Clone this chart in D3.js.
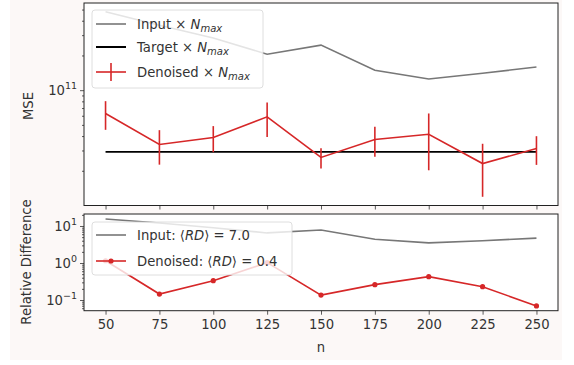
<!DOCTYPE html>
<html lang="en">
<head>
<meta charset="utf-8">
<title>MSE vs n</title>
<script src="https://cdnjs.cloudflare.com/ajax/libs/d3/7.8.5/d3.min.js"></script>
<style>
  body { margin: 0; background: #fff; }
  svg text { font-family: "DejaVu Sans", sans-serif; fill: #333; }
</style>
</head>
<body>
<script>
// data
var nValues = [50, 75, 100, 125, 150, 175, 200, 225, 250];
var inputMse = [4.78e11, 3.66e11, 2.83e11, 2.05e11, 2.46e11, 1.49e11, 1.25e11, 1.40e11, 1.59e11];
var targetMse = [2.92e10, 2.92e10, 2.92e10, 2.92e10, 2.92e10, 2.92e10, 2.92e10, 2.92e10, 2.92e10];
var denoisedMse = [6.28e10, 3.38e10, 3.89e10, 5.87e10, 2.61e10, 3.73e10, 4.15e10, 2.31e10, 3.12e10];
var denoisedErr = [1.75e10, 1.12e10, 0.99e10, 1.95e10, 0.52e10, 1.08e10, 2.13e10, 1.12e10, 0.87e10];
var inputRD = [15.5, 12.0, 9.0, 6.5, 7.8, 4.4, 3.5, 4.0, 4.7];
var denoisedRD = [1.15, 0.145, 0.333, 1.02, 0.136, 0.26, 0.427, 0.229, 0.069];
var xTicks = [50, 75, 100, 125, 150, 175, 200, 225, 250];
var inputMeanRD = "7.0";
var denoisedMeanRD = "0.4";

var W = 574, H = 365;
var grey = "#777", red = "#d62728";
var fs = "13.2px";

var svg = d3.select("body").append("svg")
  .attr("width", W).attr("height", H);

// figure background
svg.append("rect").attr("x", 10).attr("y", 0).attr("width", 552).attr("height", 360)
  .attr("fill", "#fcf8f7");

var left = 84, right = 558;
var top1 = 3, bot1 = 205.5, top2 = 214, bot2 = 310.7;

var x = d3.scaleLinear().domain([40, 260]).range([left, right]);
var y1 = d3.scaleLog().domain([1.0e10, 5.7e11]).range([bot1, top1]);
var y2 = d3.scaleLog().domain([0.0514, 21.1]).range([bot2, top2]);

function panel(t, b) {
  svg.append("rect").attr("x", left).attr("y", t).attr("width", right - left).attr("height", b - t)
    .attr("fill", "#fff");
}
panel(top1, bot1);
panel(top2, bot2);

function minorTicks(scale) {
  var d = scale.domain(), out = [];
  for (var e = Math.floor(Math.log10(d[0])); e <= Math.ceil(Math.log10(d[1])); e++) {
    for (var k = 2; k <= 9; k++) {
      var v = k * Math.pow(10, e);
      if (v >= d[0] && v <= d[1]) out.push(v);
    }
  }
  return out;
}

function styleAxis(g) {
  g.select(".domain").remove();
  g.selectAll("line").attr("stroke", "#333").attr("stroke-width", 0.8);
}

// x axes
svg.append("g").attr("transform", "translate(0," + bot1 + ")")
  .call(d3.axisBottom(x).tickValues(xTicks).tickSize(4).tickFormat(""))
  .call(styleAxis);
var xa = svg.append("g").attr("transform", "translate(0," + bot2 + ")")
  .call(d3.axisBottom(x).tickValues(xTicks).tickSize(4).tickPadding(5))
  .call(styleAxis);
xa.selectAll("text").attr("font-size", fs).attr("fill", "#333")
  .attr("font-family", "DejaVu Sans, sans-serif");

// y axes: major + minor
function yAxis(scale, majors) {
  svg.append("g").attr("transform", "translate(" + left + ",0)")
    .call(d3.axisLeft(scale).tickValues(majors).tickSize(4).tickFormat(""))
    .call(styleAxis);
  svg.append("g").attr("transform", "translate(" + left + ",0)")
    .call(d3.axisLeft(scale).tickValues(minorTicks(scale)).tickSize(2).tickFormat(""))
    .call(styleAxis);
  majors.forEach(function (v) {
    var e = Math.round(Math.log10(v));
    var t = svg.append("text").attr("x", left - 7).attr("y", scale(v) + 5)
      .attr("text-anchor", "end").attr("font-size", fs);
    t.append("tspan").text("10");
    t.append("tspan").attr("dy", -6).attr("font-size", "9.5px")
      .text(e < 0 ? "\u2212" + String(-e) : String(e));
  });
}
yAxis(y1, [1e11]);
yAxis(y2, [0.1, 1, 10]);

// spines
[[top1, bot1], [top2, bot2]].forEach(function (p) {
  svg.append("rect").attr("x", left).attr("y", p[0]).attr("width", right - left).attr("height", p[1] - p[0])
    .attr("fill", "none").attr("stroke", "#222").attr("stroke-width", 1);
});

// top panel lines
var line1 = d3.line().x(function (d) { return x(d[0]); }).y(function (d) { return y1(d[1]); });
svg.append("path").datum(d3.zip(nValues, inputMse)).attr("d", line1)
  .attr("fill", "none").attr("stroke", grey).attr("stroke-width", 1.6);
svg.append("path").datum(d3.zip(nValues, targetMse)).attr("d", line1)
  .attr("fill", "none").attr("stroke", "#000").attr("stroke-width", 1.6);
svg.append("path").datum(d3.zip(nValues, denoisedMse)).attr("d", line1)
  .attr("fill", "none").attr("stroke", red).attr("stroke-width", 1.6);
svg.selectAll(".err").data(nValues).enter().append("line")
  .attr("x1", function (d) { return x(d); }).attr("x2", function (d) { return x(d); })
  .attr("y1", function (d, i) { return y1(denoisedMse[i] + denoisedErr[i]); })
  .attr("y2", function (d, i) { return y1(denoisedMse[i] - denoisedErr[i]); })
  .attr("stroke", red).attr("stroke-width", 1.6);

// bottom panel lines
var line2 = d3.line().x(function (d) { return x(d[0]); }).y(function (d) { return y2(d[1]); });
svg.append("path").datum(d3.zip(nValues, inputRD)).attr("d", line2)
  .attr("fill", "none").attr("stroke", grey).attr("stroke-width", 1.6);
svg.append("path").datum(d3.zip(nValues, denoisedRD)).attr("d", line2)
  .attr("fill", "none").attr("stroke", red).attr("stroke-width", 1.6);
svg.selectAll(".dot").data(nValues).enter().append("circle")
  .attr("cx", function (d) { return x(d); })
  .attr("cy", function (d, i) { return y2(denoisedRD[i]); })
  .attr("r", 2.6).attr("fill", red);

// legends
function legendBox(x0, y0, w, h) {
  svg.append("rect").attr("x", x0).attr("y", y0).attr("width", w).attr("height", h)
    .attr("rx", 3).attr("fill", "#fff").attr("fill-opacity", 0.8)
    .attr("stroke", "#d6d6d6").attr("stroke-width", 0.8);
}
function nmaxLabel(t, name) {
  t.append("tspan").text(name + " \u00d7 ");
  t.append("tspan").attr("font-style", "italic").text("N");
  t.append("tspan").attr("font-style", "italic").attr("font-size", "10px").attr("dy", 3).text("max");
}
function rdLabel(t, name, val) {
  t.append("tspan").text(name + ": \u27e8");
  t.append("tspan").attr("font-style", "italic").text("RD");
  t.append("tspan").text("\u27e9 = " + val);
}

legendBox(92, 10, 171, 78);
var lg1 = [
  { y: 24, color: grey, w: 1.6, name: "Input" },
  { y: 47, color: "#000", w: 2, name: "Target" },
  { y: 72, color: red, w: 1.6, name: "Denoised", bar: true }
];
lg1.forEach(function (d) {
  svg.append("line").attr("x1", 96).attr("x2", 126).attr("y1", d.y).attr("y2", d.y)
    .attr("stroke", d.color).attr("stroke-width", d.w);
  if (d.bar) {
    svg.append("line").attr("x1", 111).attr("x2", 111).attr("y1", d.y - 9).attr("y2", d.y + 9)
      .attr("stroke", d.color).attr("stroke-width", 1.6);
  }
  var t = svg.append("text").attr("x", 137).attr("y", d.y + 4.5).attr("font-size", fs);
  nmaxLabel(t, d.name);
});

legendBox(92, 222, 200, 53);
svg.append("line").attr("x1", 96).attr("x2", 126).attr("y1", 235).attr("y2", 235)
  .attr("stroke", grey).attr("stroke-width", 1.6);
rdLabel(svg.append("text").attr("x", 137).attr("y", 239.5).attr("font-size", fs), "Input", inputMeanRD);
svg.append("line").attr("x1", 96).attr("x2", 126).attr("y1", 261).attr("y2", 261)
  .attr("stroke", red).attr("stroke-width", 1.6);
svg.append("circle").attr("cx", 111).attr("cy", 261).attr("r", 2.6).attr("fill", red);
rdLabel(svg.append("text").attr("x", 137).attr("y", 265.5).attr("font-size", fs), "Denoised", denoisedMeanRD);

// axis titles
svg.append("text").attr("transform", "translate(33,106) rotate(-90)")
  .attr("text-anchor", "middle").attr("font-size", fs).text("MSE");
svg.append("text").attr("transform", "translate(31,262) rotate(-90)")
  .attr("text-anchor", "middle").attr("font-size", fs).text("Relative Difference");
svg.append("text").attr("x", (left + right) / 2).attr("y", 352)
  .attr("text-anchor", "middle").attr("font-size", fs).text("n");
</script>
</body>
</html>
